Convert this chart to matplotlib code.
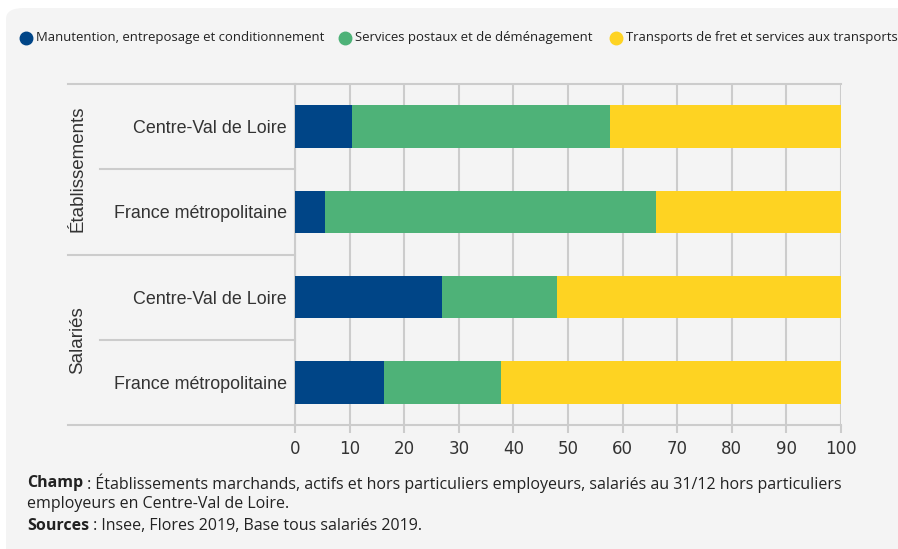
import matplotlib
matplotlib.use("Agg")
import matplotlib.pyplot as plt
from matplotlib.patches import FancyBboxPatch
from matplotlib.lines import Line2D
import matplotlib.transforms as mtrans

categories = ["Centre-Val de Loire", "France métropolitaine",
              "Centre-Val de Loire", "France métropolitaine"]
groups = ["Établissements", "Salariés"]
series_names = ["Manutention, entreposage et conditionnement",
                "Services postaux et de déménagement",
                "Transports de fret et services aux transports"]
manutention = [10.4, 5.5, 26.9, 16.3]
postaux = [47.3, 60.6, 21.1, 21.4]
fret = [42.3, 33.9, 52.0, 62.3]
colors = ["#004587", "#4eb278", "#fed322"]

W, H = 898, 549
fig = plt.figure(figsize=(W / 100, H / 100), dpi=100)
fig.patch.set_facecolor("white")

# grey rounded panel behind everything
panel = FancyBboxPatch((6 / W, -20 / H), (W + 20) / W, (H - 8 + 20) / H,
                       boxstyle="round,pad=0,rounding_size=0.02",
                       transform=fig.transFigure, facecolor="#f4f4f4",
                       edgecolor="none", zorder=-10)
fig.add_artist(panel)

ax = fig.add_axes([295 / W, 1 - 425 / H, 546 / W, 341 / H])
ax.set_facecolor("none")

ypos = list(range(len(categories)))
left = [0] * len(categories)
for vals, col, name in zip([manutention, postaux, fret], colors, series_names):
    ax.barh(ypos, vals, left=left, height=0.5, color=col, label=name, zorder=3)
    left = [l + v for l, v in zip(left, vals)]

ax.set_xlim(0, 100)
ax.set_ylim(3.5, -0.5)
ax.set_xticks(range(0, 101, 10))
ax.grid(axis="x", color="#cccccc", linewidth=1.5, zorder=0)
ax.tick_params(axis="x", length=6, width=1.5, color="#cccccc",
               labelsize=12, labelcolor="#333333", pad=5)
ax.set_yticks(ypos)
ax.set_yticklabels(categories, fontsize=12.9, color="#333333",
                   fontfamily="Liberation Sans")
ax.tick_params(axis="y", length=0, pad=6)
ax.spines["right"].set_visible(False)
for side in ["left", "top", "bottom"]:
    ax.spines[side].set_color("#cccccc")
    ax.spines[side].set_linewidth(1.5)

# group separators in the label area
tr = mtrans.blended_transform_factory(ax.transAxes, ax.transData)
x_outer = (68 - 295) / 546
x_inner = (100 - 295) / 546
for y in [-0.5, 1.5, 3.5]:
    ax.plot([x_outer, 0], [y, y], color="#cccccc", lw=1.5, transform=tr,
            clip_on=False)
for y in [0.5, 2.5]:
    ax.plot([x_inner, 0], [y, y], color="#cccccc", lw=1.5, transform=tr,
            clip_on=False)
x_group = (78 - 295) / 546
for i, g in enumerate(groups):
    ax.text(x_group, 2 * i + 0.5, g, rotation=90, transform=tr,
            ha="center", va="center", fontsize=13.5, color="#333333",
            fontfamily="Liberation Sans")

# legend, laid out by hand
leg_y = 1 - 38 / H
for xm, col, name in zip([26, 345, 616], colors, series_names):
    fig.add_artist(Line2D([xm / W], [leg_y], marker="o", linestyle="none",
                          markersize=9, markerfacecolor=col,
                          markeredgecolor=col, transform=fig.transFigure))
    fig.text((xm + 10) / W, leg_y, name, va="center", ha="left",
             family="Open Sans", size=9.45, color="#222222")

# footer notes
foot = {"family": "Open Sans", "size": 11.5, "color": "#222222"}
fig.canvas.draw()
renderer = fig.canvas.get_renderer()
lines = [("Champ", " : Établissements marchands, actifs et hors particuliers employeurs, salariés au 31/12 hors particuliers", 483),
         ("", "employeurs en Centre-Val de Loire.", 504),
         ("Sources", " : Insee, Flores 2019, Base tous salariés 2019.", 526)]
for bold, rest, ypx in lines:
    x0 = 27 / W
    if bold:
        t = fig.text(x0, 1 - ypx / H, bold, fontweight="bold", va="center", **foot)
        bb = t.get_window_extent(renderer)
        x0 = bb.x1 / W
    fig.text(x0, 1 - ypx / H, rest, va="center", **foot)

fig.savefig("out.png", dpi=100)
